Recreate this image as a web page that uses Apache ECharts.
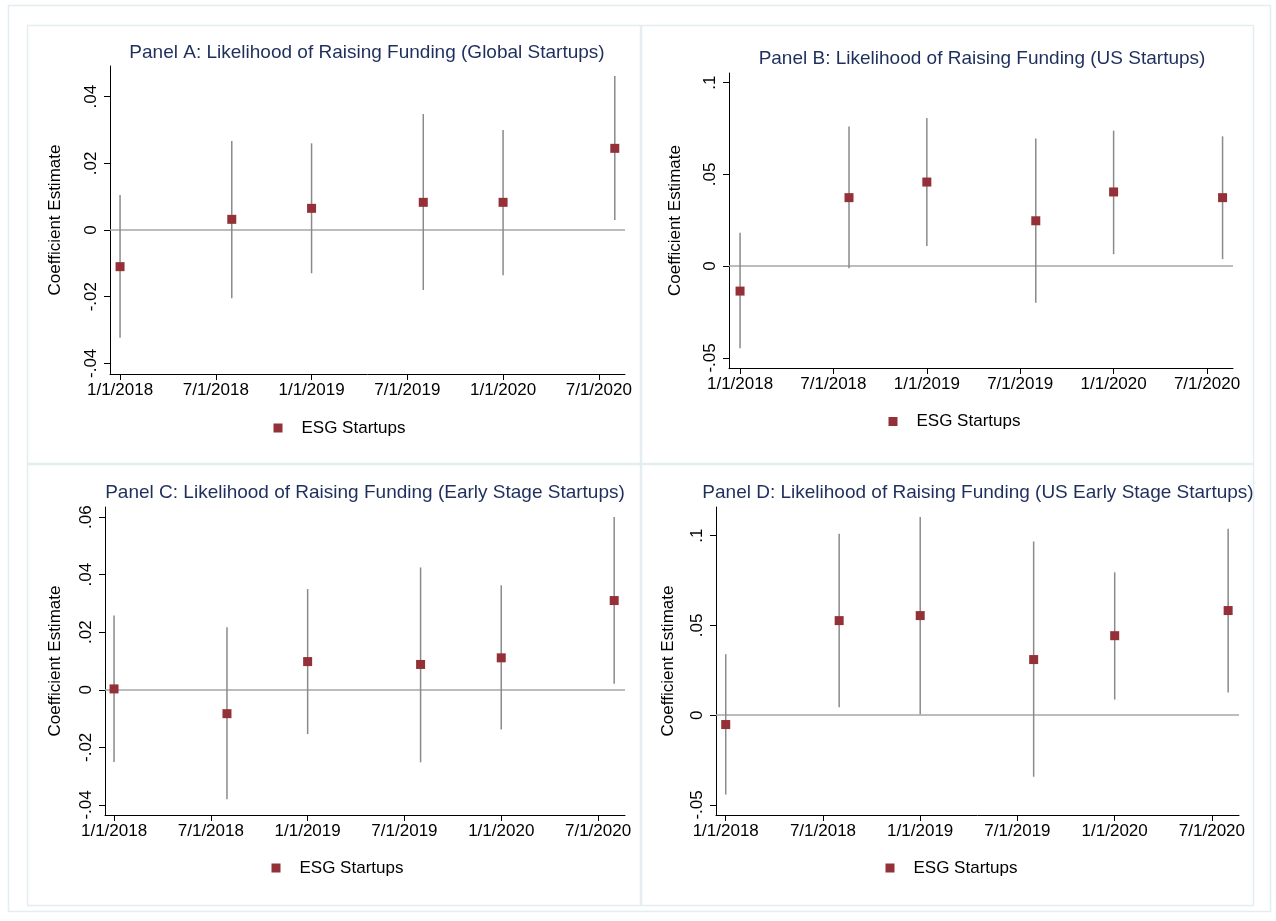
<!DOCTYPE html>
<html>
<head>
<meta charset="utf-8">
<script src="https://cdn.jsdelivr.net/npm/echarts@6/dist/echarts.min.js"></script>
<style>
  html, body { margin: 0; padding: 0; background: #ffffff; }
  #chart { width: 1276px; height: 921px; }
</style>
</head>
<body>
<div id="chart"></div>
<script>
// ---- data ----
const periods = ['2018-01', '2018-08', '2019-01', '2019-08', '2020-01', '2020-08'];
const xTickValues = [0, 6, 12, 18, 24, 30];
const xTickLabels = ['1/1/2018', '7/1/2018', '1/1/2019', '7/1/2019', '1/1/2020', '7/1/2020'];

const panelTitles = [
  'Panel A: Likelihood of Raising Funding (Global Startups)',
  'Panel B: Likelihood of Raising Funding (US Startups)',
  'Panel C: Likelihood of Raising Funding (Early Stage Startups)',
  'Panel D: Likelihood of Raising Funding (US Early Stage Startups)'
];
const seriesName = 'ESG Startups';
const yAxisTitle = 'Coefficient Estimate';

const estA = [-0.0110, 0.0032, 0.0065, 0.0083, 0.0083, 0.0245];
const loA  = [-0.0323, -0.0205, -0.0130, -0.0180, -0.0136, 0.0030];
const hiA  = [0.0105, 0.0267, 0.0260, 0.0348, 0.0300, 0.0462];

const estB = [-0.0136, 0.0373, 0.0458, 0.0247, 0.0404, 0.0373];
const loB  = [-0.0447, -0.0011, 0.0109, -0.0200, 0.0065, 0.0038];
const hiB  = [0.0182, 0.0760, 0.0807, 0.0695, 0.0738, 0.0707];

const estC = [0.0003, -0.0083, 0.0098, 0.0088, 0.0111, 0.0310];
const loC  = [-0.0251, -0.0380, -0.0154, -0.0252, -0.0138, 0.0021];
const hiC  = [0.0258, 0.0217, 0.0350, 0.0425, 0.0363, 0.0600];

const estD = [-0.0052, 0.0527, 0.0555, 0.0310, 0.0443, 0.0583];
const loD  = [-0.0442, 0.0045, 0.0006, -0.0343, 0.0087, 0.0126];
const hiD  = [0.0340, 0.1011, 0.1104, 0.0968, 0.0796, 0.1039];

const yTicksA = [-0.04, -0.02, 0, 0.02, 0.04];
const yLabelsA = ['-.04', '-.02', '0', '.02', '.04'];
const yTicksB = [-0.05, 0, 0.05, 0.1];
const yLabelsB = ['-.05', '0', '.05', '.1'];
const yTicksC = [-0.04, -0.02, 0, 0.02, 0.04, 0.06];
const yLabelsC = ['-.04', '-.02', '0', '.02', '.04', '.06'];
const yTicksD = [-0.05, 0, 0.05, 0.1];
const yLabelsD = ['-.05', '0', '.05', '.1'];

// ---- layout / style ----
const FONT = '"Liberation Sans", Arial, Helvetica, sans-serif';
const MARKER = '#933038';
const CI_COLOR = '#8a8a8a';
const ZERO_COLOR = '#a6a6a6';
const TITLE_COLOR = '#1e2f5c';
const FRAME = '#e4edf0';

function monthIndex(p) {
  const [y, m] = p.split('-').map(Number);
  return (y - 2018) * 12 + (m - 1);
}
const xs = periods.map(monthIndex);

const panels = [
  { est: estA, lo: loA, hi: hiA, yt: yTicksA, yl: yLabelsA,
    grid: { left: 110, top: 66, width: 515, height: 308 },
    xMin: -0.63, xMax: 31.64, yMin: -0.0432, yMax: 0.0492, nameGap: 46,
    title: [367, 53], legend: [273.5, 419.5] },
  { est: estB, lo: loB, hi: hiB, yt: yTicksB, yl: yLabelsB,
    grid: { left: 729, top: 73, width: 504, height: 295 },
    xMin: -0.71, xMax: 31.67, yMin: -0.0555, yMax: 0.1052, nameGap: 45,
    title: [982, 59], legend: [888.5, 413] },
  { est: estC, lo: loC, hi: hiC, yt: yTicksC, yl: yLabelsC,
    grid: { left: 105, top: 507, width: 520, height: 308 },
    xMin: -0.56, xMax: 31.67, yMin: -0.0435, yMax: 0.0635, nameGap: 41,
    title: [365, 493], legend: [271.5, 859.5] },
  { est: estD, lo: loD, hi: hiD, yt: yTicksD, yl: yLabelsD,
    grid: { left: 716, top: 507, width: 523, height: 308 },
    xMin: -0.6, xMax: 31.67, yMin: -0.0556, yMax: 0.116, nameGap: 39,
    title: [978, 493], legend: [885.5, 859.5] }
];

const grids = [], xAxes = [], yAxes = [], series = [], legends = [];
const graphics = [
  { type: 'rect', silent: true, z: -10, shape: { x: 8.5, y: 5.5, width: 1262, height: 906 },
    style: { fill: 'none', stroke: FRAME, lineWidth: 1.5 } },
  { type: 'rect', silent: true, z: -10, shape: { x: 27.5, y: 25.5, width: 613, height: 438 },
    style: { fill: 'none', stroke: FRAME, lineWidth: 1.5 } },
  { type: 'rect', silent: true, z: -10, shape: { x: 641.5, y: 25.5, width: 612, height: 438 },
    style: { fill: 'none', stroke: FRAME, lineWidth: 1.5 } },
  { type: 'rect', silent: true, z: -10, shape: { x: 27.5, y: 464.5, width: 613, height: 441 },
    style: { fill: 'none', stroke: FRAME, lineWidth: 1.5 } },
  { type: 'rect', silent: true, z: -10, shape: { x: 641.5, y: 464.5, width: 612, height: 441 },
    style: { fill: 'none', stroke: FRAME, lineWidth: 1.5 } }
];

panels.forEach((p, i) => {
  grids.push(Object.assign({ containLabel: false }, p.grid));
  xAxes.push({
    type: 'value', gridIndex: i, min: p.xMin, max: p.xMax,
    splitLine: { show: false },
    axisLine: { show: true, onZero: false, lineStyle: { color: '#000', width: 1 } },
    axisTick: { show: true, length: 6, customValues: xTickValues, lineStyle: { color: '#000', width: 1 } },
    axisLabel: {
      show: true, customValues: xTickValues, margin: 8,
      color: '#000', fontSize: 17, fontFamily: FONT,
      formatter: v => xTickLabels[xTickValues.indexOf(Math.round(v))] || ''
    }
  });
  yAxes.push({
    type: 'value', gridIndex: i, min: p.yMin, max: p.yMax,
    name: yAxisTitle, nameLocation: 'middle', nameGap: p.nameGap, nameRotate: 90,
    nameTextStyle: { color: '#000', fontSize: 17, fontFamily: FONT },
    splitLine: { show: false },
    axisLine: { show: true, onZero: false, lineStyle: { color: '#000', width: 1 } },
    axisTick: { show: true, length: 6, customValues: p.yt, lineStyle: { color: '#000', width: 1 } },
    axisLabel: {
      show: true, customValues: p.yt, rotate: 90, margin: 10,
      color: '#000', fontSize: 17, fontFamily: FONT,
      formatter: v => {
        const k = p.yt.findIndex(t => Math.abs(t - v) < 1e-9);
        return k >= 0 ? p.yl[k] : '';
      }
    }
  });
  series.push({
    name: 'CI ' + i, type: 'custom', xAxisIndex: i, yAxisIndex: i, z: 3, silent: true,
    data: xs.map((x, k) => [x, p.lo[k], p.hi[k]]),
    encode: { x: 0, y: [1, 2] },
    renderItem: (params, api) => {
      const a = api.coord([api.value(0), api.value(1)]);
      const b = api.coord([api.value(0), api.value(2)]);
      return { type: 'line', shape: { x1: a[0], y1: a[1], x2: b[0], y2: b[1] },
               style: { stroke: CI_COLOR, lineWidth: 1.5 } };
    }
  });
  series.push({
    name: seriesName, type: 'scatter', xAxisIndex: i, yAxisIndex: i, z: 4,
    symbol: 'rect', symbolSize: 9,
    itemStyle: { color: MARKER, opacity: 1 },
    data: xs.map((x, k) => [x, p.est[k]]),
    markLine: {
      silent: true, symbol: ['none', 'none'], z: 2,
      label: { show: false },
      lineStyle: { color: ZERO_COLOR, width: 1.5, type: 'solid', opacity: 1 },
      emphasis: { disabled: true },
      data: [{ yAxis: 0 }]
    }
  });
  legends.push({
    data: [seriesName], left: p.legend[0], top: p.legend[1], padding: 0,
    icon: 'rect', itemWidth: 9, itemHeight: 9, selectedMode: false,
    itemStyle: { color: MARKER, opacity: 1 },
    textStyle: { color: '#000', fontSize: 17, fontFamily: FONT, padding: [0, 0, 0, 14] }
  });
  graphics.push({
    type: 'text', silent: true, x: p.title[0], y: p.title[1],
    style: { text: panelTitles[i], fill: TITLE_COLOR, fontSize: 19, fontFamily: FONT,
             align: 'center', verticalAlign: 'middle' }
  });
});

const chart = echarts.init(document.getElementById('chart'), null, { renderer: 'canvas' });
chart.setOption({
  backgroundColor: '#ffffff',
  animation: false,
  grid: grids, xAxis: xAxes, yAxis: yAxes,
  legend: legends, series: series, graphic: graphics
});
</script>
</body>
</html>
